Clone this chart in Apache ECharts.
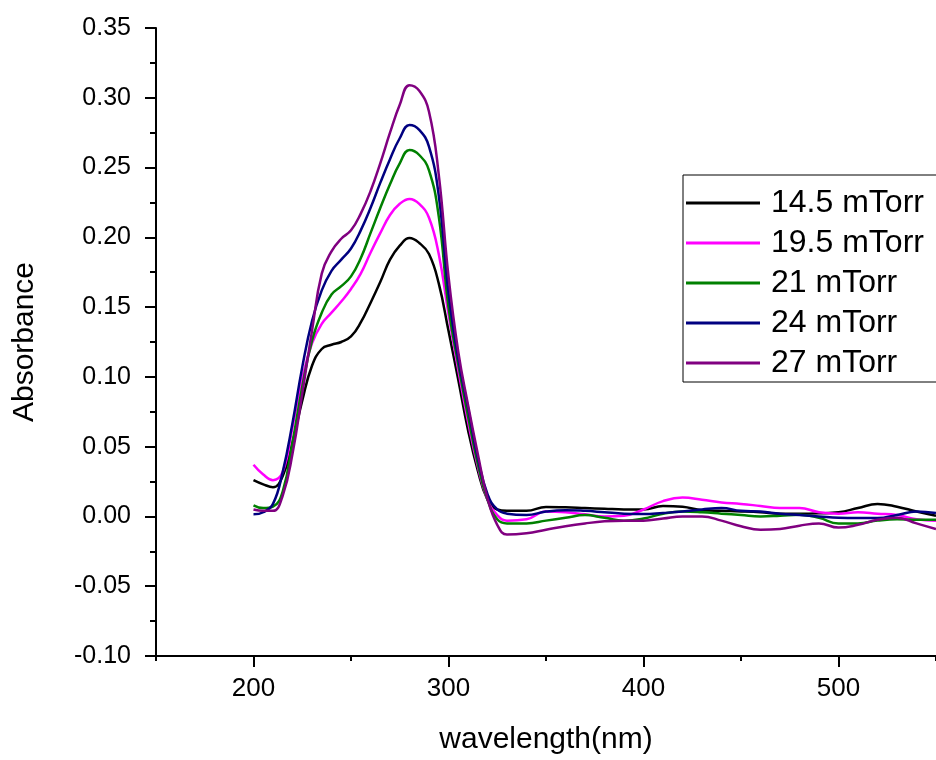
<!DOCTYPE html>
<html>
<head>
<meta charset="utf-8">
<title>Absorbance</title>
<script src="https://cdn.jsdelivr.net/npm/echarts@6/dist/echarts.min.js"></script>
<style>
  html, body { margin: 0; padding: 0; background: #fff; }
  #main { width: 936px; height: 760px; }
</style>
</head>
<body>
<div id="main"></div>
<script>
// wavelength (nm)
var wavelength = [200, 205, 210, 215, 220, 225, 230, 235, 240, 245, 250, 255, 260, 265, 270, 275, 280, 285, 290, 295, 300, 305, 310, 315, 320, 325, 330, 340, 350, 360, 370, 380, 390, 400, 410, 420, 430, 440, 450, 460, 470, 480, 490, 500, 510, 520, 530, 540, 550];

// absorbance per pressure
var abs145 = [0.026, 0.023, 0.021, 0.029, 0.053, 0.083, 0.108, 0.120, 0.123, 0.125, 0.129, 0.139, 0.153, 0.168, 0.184, 0.194, 0.1995, 0.196, 0.188, 0.167, 0.133, 0.098, 0.062, 0.033, 0.012, 0.005, 0.004, 0.004, 0.0068, 0.0065, 0.006, 0.0055, 0.005, 0.005, 0.0075, 0.007, 0.0045, 0.004, 0.0036, 0.003, 0.002, 0.0019, 0.0022, 0.003, 0.006, 0.009, 0.007, 0.0035, 0.0005];
var abs195 = [0.037, 0.030, 0.026, 0.032, 0.064, 0.099, 0.124, 0.138, 0.146, 0.154, 0.163, 0.174, 0.189, 0.203, 0.216, 0.224, 0.2275, 0.224, 0.214, 0.188, 0.145, 0.105, 0.068, 0.036, 0.012, 0.001, -0.003, -0.002, 0.0035, 0.003, 0.0015, 0.0, 0.0005, 0.005, 0.011, 0.0135, 0.012, 0.010, 0.009, 0.0075, 0.006, 0.006, 0.003, 0.002, 0.003, 0.002, 0.001, -0.002, -0.003];
var abs21 = [0.008, 0.006, 0.007, 0.018, 0.053, 0.093, 0.126, 0.146, 0.159, 0.165, 0.172, 0.185, 0.203, 0.221, 0.238, 0.253, 0.2625, 0.259, 0.248, 0.215, 0.150, 0.109, 0.072, 0.038, 0.012, -0.002, -0.005, -0.005, -0.003, -0.001, 0.001, -0.001, -0.003, -0.0015, 0.002, 0.0035, 0.003, 0.002, 0.001, 0.0, 0.0005, 0.0012, -0.001, -0.005, -0.005, -0.003, -0.002, -0.0024, -0.0024];
var abs24 = [0.0015, 0.003, 0.009, 0.032, 0.067, 0.107, 0.140, 0.162, 0.176, 0.184, 0.192, 0.205, 0.221, 0.239, 0.256, 0.271, 0.2805, 0.277, 0.265, 0.230, 0.160, 0.113, 0.078, 0.042, 0.016, 0.005, 0.002, 0.001, 0.0035, 0.0045, 0.004, 0.003, 0.002, 0.0017, 0.0025, 0.0035, 0.005, 0.006, 0.004, 0.0035, 0.002, 0.001, 0.0, -0.001, -0.0012, -0.0012, 0.001, 0.0036, 0.0024];
var abs27 = [0.005, 0.004, 0.004, 0.015, 0.045, 0.088, 0.133, 0.174, 0.190, 0.199, 0.205, 0.217, 0.233, 0.253, 0.275, 0.295, 0.309, 0.305, 0.290, 0.245, 0.172, 0.118, 0.080, 0.045, 0.013, -0.006, -0.013, -0.012, -0.0095, -0.007, -0.005, -0.0035, -0.003, -0.003, -0.0015, 0.0, 0.0, -0.003, -0.007, -0.0095, -0.009, -0.0066, -0.005, -0.008, -0.006, -0.0024, -0.001, -0.005, -0.009];

var names = ['14.5 mTorr', '19.5 mTorr', '21 mTorr', '24 mTorr', '27 mTorr'];
var colors = ['#000000', '#ff00ff', '#008000', '#000080', '#800080'];
var xMajor = [200, 300, 400, 500];

var font = '"Liberation Sans", Arial, sans-serif';

function pairs(ys) {
  var out = [];
  for (var i = 0; i < wavelength.length; i++) {
    out.push([wavelength[i], ys[i]]);
  }
  return out;
}

var allData = [abs145, abs195, abs21, abs24, abs27];
var series = [];
for (var k = 0; k < allData.length; k++) {
  series.push({
    name: names[k],
    type: 'line',
    data: pairs(allData[k]),
    smooth: 0.45,
    showSymbol: false,
    lineStyle: { color: colors[k], width: 2.5 },
    itemStyle: { color: colors[k] },
    xAxisIndex: 0
  });
}

var myChart = echarts.init(document.getElementById('main'), null, { renderer: 'canvas' });
var option = {
  backgroundColor: '#ffffff',
  animation: false,
  grid: {
    left: 156,
    top: 28,
    bottom: 99,
    right: -6,
    containLabel: false
  },
  legend: {
    data: names,
    orient: 'vertical',
    left: 683,
    top: 175,
    icon: 'rect',
    itemWidth: 74,
    itemHeight: 3,
    itemGap: 8,
    padding: [12, 80, 3, 3],
    borderColor: '#000',
    borderWidth: 1,
    backgroundColor: '#fff',
    textStyle: {
      fontFamily: font,
      fontSize: 32,
      color: '#000',
      lineHeight: 31,
      padding: [0, 0, 0, 6]
    }
  },
  xAxis: [{
    type: 'value',
    position: 'bottom',
    min: 150,
    max: 550,
    interval: 50,
    name: 'wavelength(nm)',
    nameLocation: 'middle',
    nameGap: 69,
    nameTextStyle: { fontFamily: font, fontSize: 30, color: '#000' },
    axisLine: { show: true, onZero: false, lineStyle: { color: '#000', width: 2 } },
    axisTick: { show: true, inside: false, length: 5, lineStyle: { color: '#000', width: 2 } },
    axisLabel: { show: false },
    splitLine: { show: false }
  }, {
    type: 'value',
    position: 'bottom',
    min: 150,
    max: 550,
    axisLine: { show: false, onZero: false },
    axisTick: { show: true, inside: false, length: 11, customValues: xMajor, lineStyle: { color: '#000', width: 2 } },
    axisLabel: { show: true, customValues: xMajor, margin: 20, fontFamily: font, fontSize: 26, color: '#000' },
    splitLine: { show: false }
  }],
  yAxis: {
    type: 'value',
    min: -0.10,
    max: 0.35,
    interval: 0.05,
    name: 'Absorbance',
    nameLocation: 'middle',
    nameGap: 116,
    nameTextStyle: { fontFamily: font, fontSize: 30, color: '#000' },
    axisLine: { show: true, onZero: false, lineStyle: { color: '#000', width: 2 } },
    axisTick: { show: true, inside: false, length: 11, lineStyle: { color: '#000', width: 2 } },
    minorTick: { show: true, splitNumber: 2, length: 6, lineStyle: { color: '#000', width: 2 } },
    axisLabel: {
      margin: 25,
      fontFamily: font,
      fontSize: 25,
      color: '#000',
      formatter: function(v) {
        return v.toFixed(2);
      }
    },
    splitLine: { show: false },
    minorSplitLine: { show: false }
  },
  series: series
};
myChart.setOption(option);
</script>
</body>
</html>
